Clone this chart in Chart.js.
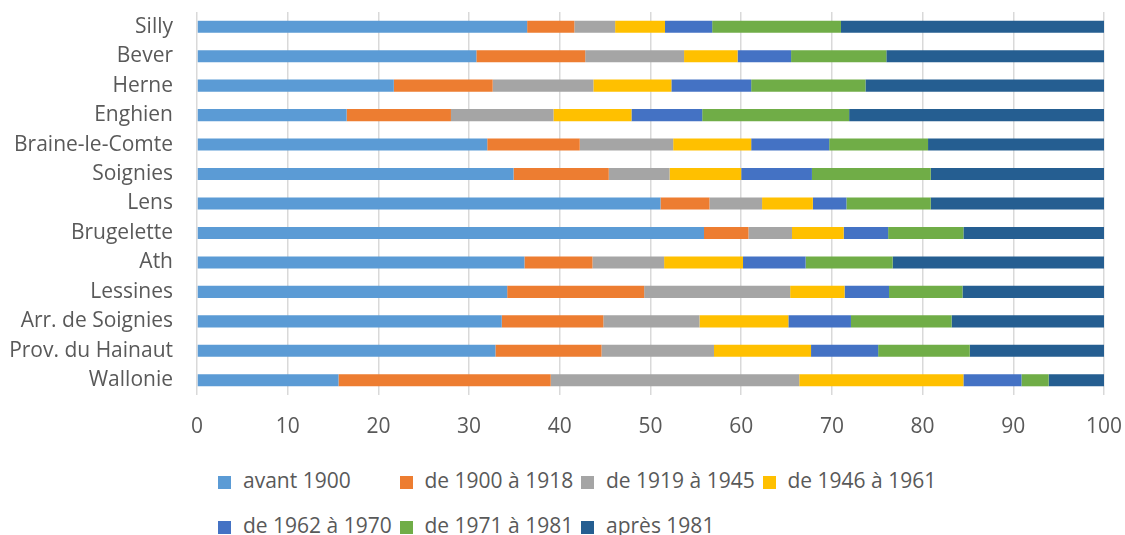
<!DOCTYPE html>
<html>
<head>
<meta charset="utf-8">
<script src="https://cdn.jsdelivr.net/npm/chart.js@4"></script>
<style>
  body { margin: 0; background: #fff; font-family: "Open Sans", sans-serif; }
  #wrap { position: absolute; left: 0; top: 0; width: 1125px; height: 450px; }
  .leg { position: absolute; font-size: 21px; color: #595959; white-space: nowrap; line-height: 24px; }
  .leg span { display: inline-block; width: 13px; height: 13px; margin-right: 12px; vertical-align: -1px; }
</style>
</head>
<body>
<div id="wrap"><canvas id="grafico" width="1125" height="450"></canvas></div>
<div id="legend"></div>
<script>
// ============================ DONNEES ============================ //

const communes = ["Silly", "Bever", "Herne", "Enghien", "Braine-le-Comte", "Soignies", "Lens",
  "Brugelette", "Ath", "Lessines", "Arr. de Soignies", "Prov. du Hainaut", "Wallonie"];

const avant1900 = [36.4, 30.8, 21.7, 16.5, 32.0, 34.9, 51.1, 55.9, 36.1, 34.2, 33.6, 32.9, 15.6];
const de1900a1918 = [5.2, 12.0, 10.9, 11.5, 10.2, 10.5, 5.4, 4.9, 7.5, 15.1, 11.2, 11.7, 23.4];
const de1919a1945 = [4.5, 10.9, 11.1, 11.3, 10.3, 6.7, 5.8, 4.8, 7.9, 16.1, 10.6, 12.4, 27.4];
const de1946a1961 = [5.5, 5.9, 8.6, 8.6, 8.6, 7.9, 5.6, 5.7, 8.7, 6.0, 9.8, 10.7, 18.1];
const de1962a1970 = [5.2, 5.9, 8.8, 7.8, 8.6, 7.8, 3.7, 4.9, 6.9, 4.9, 6.9, 7.4, 6.4];
const de1971a1981 = [14.2, 10.5, 12.6, 16.2, 10.9, 13.1, 9.3, 8.3, 9.6, 8.1, 11.1, 10.1, 3.0];
const apres1981 = [29.0, 24.0, 26.3, 28.1, 19.4, 19.1, 19.1, 15.5, 23.3, 15.6, 16.8, 14.8, 6.1];

const periodes = ["avant 1900", "de 1900 à 1918", "de 1919 à 1945", "de 1946 à 1961",
  "de 1962 à 1970", "de 1971 à 1981", "après 1981"];
const series = [avant1900, de1900a1918, de1919a1945, de1946a1961, de1962a1970, de1971a1981, apres1981];
const couleurs = ["#5B9BD5", "#ED7D31", "#A5A5A5", "#FFC000", "#4472C4", "#70AD47", "#255E91"];

const xTicks = [0, 10, 20, 30, 40, 50, 60, 70, 80, 90, 100];

// ============================ GRAFICO ============================ //

const data = {
  labels: communes,
  datasets: series.map((valeurs, i) => ({
    label: periodes[i],
    data: valeurs,
    backgroundColor: couleurs[i],
    borderWidth: 0,
    categoryPercentage: 1,
    barPercentage: 0.41,
  })),
};

const police = { family: "'Open Sans', sans-serif", size: 21 };

const config = {
  type: "bar",
  data: data,
  options: {
    indexAxis: "y",
    responsive: false,
    animation: false,
    layout: { padding: { top: 12, right: 0, left: 0, bottom: 0 } },
    plugins: { legend: { display: false }, tooltip: { enabled: false } },
    scales: {
      x: {
        stacked: true,
        min: 0,
        max: 100,
        afterBuildTicks: (axis) => { axis.ticks = xTicks.map((v) => ({ value: v })); },
        afterFit: (axis) => {
          axis.height = 55;
          axis.paddingLeft = 0;
          axis.paddingRight = 21;
        },
        grid: { color: "#d9d9d9", lineWidth: 1.5, drawTicks: false },
        border: { display: false },
        ticks: { color: "#595959", font: police, padding: 19 },
      },
      y: {
        stacked: true,
        afterFit: (axis) => {
          axis.width = 197;
          axis.paddingTop = 0;
          axis.paddingBottom = 0;
        },
        grid: { display: false, drawTicks: false },
        border: { display: false },
        ticks: { color: "#595959", font: police, padding: 24, autoSkip: false },
      },
    },
  },
};

const grafico = new Chart(document.getElementById("grafico"), config);

// ============================ LEGENDE ============================ //

const legende = document.getElementById("legend");
periodes.forEach((nom, i) => {
  const item = document.createElement("div");
  item.className = "leg";
  item.style.left = (218 + (i % 4) * 181.5) + "px";
  item.style.top = (i < 4 ? 468 : 513) + "px";
  item.innerHTML = '<span style="background:' + couleurs[i] + '"></span>' + nom;
  legende.appendChild(item);
});
</script>
</body>
</html>
